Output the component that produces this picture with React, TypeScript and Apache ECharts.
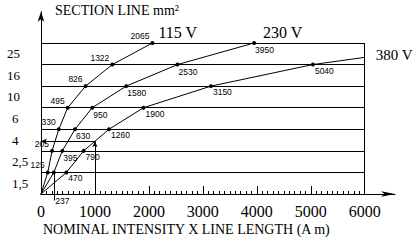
import React, { useEffect, useRef } from 'react';
import * as echarts from 'echarts';

// ---- data ----
const sectionTicks = ['1,5', '2,5', '4', '6', '10', '16', '25'];
const sectionValues = [1.5, 2.5, 4, 6, 10, 16, 25];
const seriesNames = ['115 V', '230 V', '380 V'];
const amps115 = [125, 205, 330, 495, 826, 1322, 2065];
const amps230 = [237, 395, 630, 950, 1580, 2530, 3950];
const amps380 = [470, 790, 1260, 1900, 3150, 5040];
// 380 V line continues to the frame edge
const end380Am = 6000;
const end380Section = 19;
// worked example drawn on the chart (1000 A·m at 380 V)
const exampleAm = 1000;
const exampleSection = 3.17;
// point whose label is moved under the axis
const leaderAm = 237;
const xMax = 6000;
const xStep = 1000;

const SERIF = "'Liberation Serif', 'Times New Roman', serif";
const SANS = "'Liberation Sans', Arial, sans-serif";

// section (mm²) -> position on the (equally spaced) section scale
function sectionPos(s: number): number {
  for (let i = 0; i < sectionValues.length - 1; i++) {
    const a = sectionValues[i];
    const b = sectionValues[i + 1];
    if (s >= a && s <= b) return i + 1 + (s - a) / (b - a);
  }
  return sectionValues.length;
}

const labelStyles = [
  { position: 'left', distance: 1, offset: [0, -7] },
  { position: 'right', distance: 0, offset: [-1, 7] },
  { position: 'right', distance: 0, offset: [0, 6] },
];
const endLabelOffsets = [
  [6, -10],
  [9, -10],
  [11, -2],
];
const endLabelSizes = [16, 16, 15];

export default function App() {
  const ref = useRef<HTMLDivElement>(null);
  useEffect(() => {
    if (!ref.current) return;
    const chart = echarts.init(ref.current, null, { renderer: 'svg' });
    const allAmps = [amps115, amps230, amps380];

    const curveSeries = allAmps.map((amps, si) => {
      const data: any[] = [{ value: [0, 0], symbol: 'none', label: { show: false } }];
      amps.forEach((a, i) => {
        const item: any = { value: [a, sectionPos(sectionValues[i])] };
        if (a === leaderAm) item.label = { offset: [-0.5, 29] };
        data.push(item);
      });
      if (si === 2) {
        data.push({ value: [end380Am, sectionPos(end380Section)], symbol: 'none', label: { show: false } });
      }
      const ls = labelStyles[si];
      return {
        type: 'line',
        name: seriesNames[si],
        xAxisIndex: 0,
        yAxisIndex: 0,
        data,
        symbol: 'circle',
        symbolSize: 4,
        showAllSymbol: true,
        silent: true,
        itemStyle: { color: '#000' },
        lineStyle: { color: '#000', width: 1 },
        label: {
          show: true,
          position: ls.position,
          distance: ls.distance,
          offset: ls.offset,
          fontSize: 8.5,
          fontFamily: SANS,
          color: '#000',
          formatter: (p: any) => String(p.value[0]),
        },
        endLabel: {
          show: true,
          formatter: '{a}',
          fontSize: endLabelSizes[si],
          fontFamily: SERIF,
          color: '#000',
          distance: 0,
          offset: endLabelOffsets[si],
          valueAnimation: false,
        },
        emphasis: { disabled: true },
      };
    });

    const exPos = sectionPos(exampleSection);
    const frameLines: any[] = sectionValues.map((s) => [
      { coord: [0, sectionPos(s)] },
      { coord: [xMax, sectionPos(s)] },
    ]);
    frameLines.push([{ coord: [xMax, 0] }, { coord: [xMax, sectionValues.length] }]);
    frameLines.push([{ coord: [leaderAm, 1] }, { coord: [leaderAm, -0.3] }]);
    frameLines.push([
      { coord: [exampleAm, 0], symbol: 'none' },
      { coord: [exampleAm, exPos], symbol: 'arrow' },
    ]);
    frameLines.push([
      { coord: [exampleAm, exPos], symbol: 'none' },
      { coord: [0, exPos], symbol: 'arrow' },
    ]);

    const option: any = {
      animation: false,
      backgroundColor: '#fff',
      title: [
        {
          text: 'SECTION LINE mm²',
          left: 55,
          top: 3.5,
          padding: 0,
          textStyle: { fontSize: 14, fontWeight: 'normal', fontFamily: SERIF, color: '#000' },
        },
        {
          text: 'NOMINAL INTENSITY X LINE LENGTH (A m)',
          left: 43,
          top: 222.5,
          padding: 0,
          textStyle: { fontSize: 14, fontWeight: 'normal', fontFamily: SERIF, color: '#000' },
        },
      ],
      grid: [
        { left: 41, right: 49.3, top: 11.7, bottom: 35.2 },
        { left: 41, right: 19, top: 11.7, bottom: 46 },
      ],
      xAxis: [
        {
          type: 'value',
          gridIndex: 0,
          min: 0,
          max: xMax,
          interval: xStep,
          axisLine: { show: true, onZero: true, lineStyle: { color: '#000', width: 1 } },
          axisTick: { show: true, inside: true, length: 8, lineStyle: { color: '#000', width: 1 } },
          minorTick: { show: true, splitNumber: 10, length: 3, lineStyle: { color: '#000', width: 1 } },
          axisLabel: {
            fontSize: 16,
            fontFamily: SERIF,
            color: '#000',
            margin: -1,
            formatter: (v: number) => String(v),
          },
          splitLine: { show: false },
        },
        {
          type: 'value',
          gridIndex: 1,
          min: 0,
          max: 1,
          axisLine: {
            show: true,
            symbol: ['none', 'arrow'],
            symbolSize: [4, 14],
            lineStyle: { color: '#000', width: 1 },
          },
          axisTick: { show: false },
          axisLabel: { show: false },
          splitLine: { show: false },
        },
      ],
      yAxis: [
        {
          type: 'value',
          gridIndex: 0,
          min: -0.5,
          max: 8.45,
          interval: 0.5,
          axisLine: { show: false },
          axisTick: { show: false },
          splitLine: { show: false },
          axisLabel: {
            align: 'left',
            margin: 34,
            fontSize: 13,
            fontFamily: SERIF,
            color: '#000',
            formatter: (v: number) => {
              const k = Math.round(v + 0.5);
              if (Math.abs(v + 0.5 - k) > 1e-6 || k < 1 || k > sectionTicks.length) return '';
              const t = sectionTicks[k - 1];
              return t.length === 2 ? `{a|${t}}` : `{b|${t}}`;
            },
            rich: { a: {}, b: { padding: [0, 0, 0, 5] } },
          },
        },
        {
          type: 'value',
          gridIndex: 1,
          min: 0,
          max: 1,
          axisLine: {
            show: true,
            symbol: ['none', 'arrow'],
            symbolSize: [5, 10],
            lineStyle: { color: '#000', width: 1 },
          },
          axisTick: { show: false },
          axisLabel: { show: false },
          splitLine: { show: false },
        },
      ],
      series: [
        {
          type: 'line',
          name: 'frame',
          xAxisIndex: 0,
          yAxisIndex: 0,
          data: [],
          silent: true,
          markLine: {
            silent: true,
            symbol: 'none',
            symbolSize: [4, 6],
            label: { show: false },
            emphasis: { disabled: true },
            lineStyle: { color: '#000', width: 1, type: 'solid' },
            data: frameLines,
          },
        },
        ...curveSeries,
      ],
    };
    chart.setOption(option);
    return () => chart.dispose();
  }, []);
  return <div ref={ref} style={{ width: 414, height: 240, position: 'absolute', left: 0, top: 0 }} />;
}
